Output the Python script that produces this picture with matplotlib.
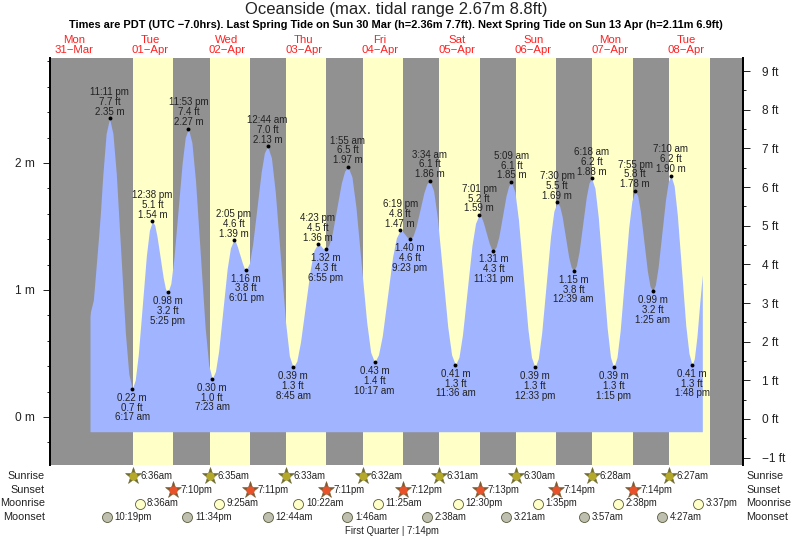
import matplotlib
matplotlib.use("Agg")
import matplotlib.pyplot as plt
from matplotlib.ticker import MultipleLocator, FuncFormatter

plt.rcParams['font.family'] = ['Liberation Sans', 'DejaVu Sans']

# all times are hours after 00:00 on 31 Mar, heights in metres
tide_hours = [
    17.05, 17.2, 18.1, 19.66, 20.3, 21.05, 22.1, 23.18,
    24.25, 25.31, 26.73, 28.15, 29.22, 30.28,
    31.23, 32.19, 33.46, 34.73, 35.68, 36.63,
    37.35, 38.07, 39.03, 39.98, 40.70, 41.42,
    42.39, 43.36, 44.65, 45.94, 46.91, 47.88,
    49.0, 50.13, 51.63, 53.13, 54.26, 55.38,
    56.39, 57.39, 58.73, 60.07, 61.08, 62.08,
    62.67, 63.26, 64.05, 64.84, 65.43, 66.02,
    67.03, 68.03, 69.38, 70.72, 71.72, 72.73,
    73.93, 75.14, 76.74, 78.34, 79.55, 80.75,
    81.89, 83.04, 84.57, 86.09, 87.24, 88.38,
    89.15, 89.65, 90.15, 90.92,
    91.97, 93.02, 94.42, 95.82, 96.87, 97.92,
    99.17, 100.43, 102.10, 103.77, 105.03, 106.28,
    107.49, 108.69, 110.30, 111.91, 113.11, 114.32,
    115.05, 115.85, 116.65, 117.38,
    118.31, 119.24, 120.48, 121.71, 122.64, 123.57,
    124.77, 125.98, 127.59, 129.19, 130.40, 131.6,
    132.71, 133.83, 135.31, 136.79, 137.91, 139.02,
    139.70, 140.37, 141.27, 142.17, 142.85, 143.52,
    144.36, 145.21, 146.34, 147.46, 148.31, 149.15,
    150.26, 151.37, 152.85, 154.33, 155.44, 156.55,
    157.59, 158.64, 160.03, 161.42, 162.46, 163.5,
    164.27, 165.05, 166.08, 167.11, 167.88, 168.65,
    169.50, 170.35, 171.48, 172.61, 173.45, 174.3,
    175.34, 176.39, 177.78, 179.17, 180.21, 181.25,
    182.25, 183.25, 184.59, 185.92, 186.92, 187.92,
    188.75, 189.57, 190.67, 191.77, 192.60, 193.42,
    194.28, 195.15, 196.30, 197.45, 198.31, 199.17,
    200.16, 201.16, 202.49, 203.81, 204.81, 205.8,
    206.5, 207.3, 208.27, 209.0,
]
tide_m = [
    0.79, 0.83, 0.92, 1.39, 1.60, 1.90, 2.23, 2.35,
    2.23, 1.91, 1.285, 0.66, 0.34, 0.22,
    0.29, 0.49, 0.88, 1.27, 1.47, 1.54,
    1.51, 1.42, 1.26, 1.10, 1.01, 0.98,
    1.05, 1.25, 1.625, 2.00, 2.20, 2.27,
    2.16, 1.86, 1.285, 0.71, 0.41, 0.30,
    0.36, 0.52, 0.845, 1.17, 1.33, 1.39,
    1.38, 1.34, 1.275, 1.21, 1.17, 1.16,
    1.21, 1.36, 1.645, 1.93, 2.08, 2.13,
    2.04, 1.77, 1.26, 0.75, 0.48, 0.39,
    0.44, 0.59, 0.875, 1.16, 1.31, 1.36,
    1.355, 1.34, 1.325, 1.32,
    1.355, 1.45, 1.645, 1.84, 1.935, 1.97,
    1.89, 1.65, 1.20, 0.75, 0.51, 0.43,
    0.49, 0.64, 0.95, 1.26, 1.41, 1.47,
    1.46, 1.435, 1.41, 1.40,
    1.425, 1.495, 1.63, 1.765, 1.835, 1.86,
    1.78, 1.56, 1.135, 0.71, 0.49, 0.41,
    0.47, 0.65, 1.0, 1.35, 1.525, 1.59,
    1.575, 1.53, 1.45, 1.37, 1.325, 1.31,
    1.34, 1.42, 1.58, 1.74, 1.82, 1.85,
    1.77, 1.55, 1.12, 0.69, 0.47, 0.39,
    0.46, 0.66, 1.04, 1.42, 1.62, 1.69,
    1.66, 1.58, 1.42, 1.26, 1.18, 1.15,
    1.19, 1.30, 1.515, 1.73, 1.84, 1.88,
    1.80, 1.57, 1.135, 0.70, 0.47, 0.39,
    0.47, 0.68, 1.085, 1.49, 1.70, 1.78,
    1.74, 1.62, 1.385, 1.15, 1.03, 0.99,
    1.04, 1.18, 1.445, 1.71, 1.85, 1.90,
    1.82, 1.59, 1.155, 0.72, 0.50, 0.41,
    0.46, 0.63, 0.92, 1.12,
]

peak_hours = [23.18, 30.28, 36.63, 41.42, 47.88, 55.38, 62.08, 66.02, 72.73, 80.75,
              88.38, 90.92, 97.92, 106.28, 114.32, 117.38, 123.57, 131.6, 139.02, 143.52,
              149.15, 156.55, 163.5, 168.65, 174.3, 181.25, 187.92, 193.42, 199.17, 205.8]
peak_m = [2.35, 0.22, 1.54, 0.98, 2.27, 0.30, 1.39, 1.16, 2.13, 0.39,
          1.36, 1.32, 1.97, 0.43, 1.47, 1.40, 1.86, 0.41, 1.59, 1.31,
          1.85, 0.39, 1.69, 1.15, 1.88, 0.39, 1.78, 0.99, 1.90, 0.41]
peak_ft = [7.7, 0.7, 5.1, 3.2, 7.4, 1.0, 4.6, 3.8, 7.0, 1.3,
           4.5, 4.3, 6.5, 1.4, 4.8, 4.6, 6.1, 1.3, 5.2, 4.3,
           6.1, 1.3, 5.5, 3.8, 6.2, 1.3, 5.8, 3.2, 6.2, 1.3]
peak_times = ["11:11 pm", "6:17 am", "12:38 pm", "5:25 pm", "11:53 pm", "7:23 am", "2:05 pm", "6:01 pm",
              "12:44 am", "8:45 am", "4:23 pm", "6:55 pm", "1:55 am", "10:17 am", "6:19 pm", "9:23 pm",
              "3:34 am", "11:36 am", "7:01 pm", "11:31 pm", "5:09 am", "12:33 pm", "7:30 pm", "12:39 am",
              "6:18 am", "1:15 pm", "7:55 pm", "1:25 am", "7:10 am", "1:48 pm"]

sunrise_hours = [30.6, 54.58, 78.55, 102.53, 126.52, 150.5, 174.47, 198.45]
sunrise_labels = ["6:36am", "6:35am", "6:33am", "6:32am", "6:31am", "6:30am", "6:28am", "6:27am"]
sunset_hours = [43.17, 67.18, 91.18, 115.2, 139.22, 163.23, 187.23, 211.25]
sunset_labels = ["7:10pm", "7:11pm", "7:11pm", "7:12pm", "7:13pm", "7:14pm", "7:14pm"]
moonrise_hours = [32.6, 57.42, 82.37, 107.42, 132.5, 157.58, 182.63, 207.62]
moonrise_labels = ["8:36am", "9:25am", "10:22am", "11:25am", "12:30pm", "1:35pm", "2:38pm", "3:37pm"]
moonset_hours = [22.32, 47.57, 72.73, 97.77, 122.63, 147.35, 171.95, 196.45]
moonset_labels = ["10:19pm", "11:34pm", "12:44am", "1:46am", "2:38am", "3:21am", "3:57am", "4:27am"]

day_hours = [12, 36, 60, 84, 108, 132, 156, 180, 204]
day_names = ["Mon", "Tue", "Wed", "Thu", "Fri", "Sat", "Sun", "Mon", "Tue"]
day_dates = ["31−Mar", "01−Apr", "02−Apr", "03−Apr", "04−Apr", "05−Apr", "06−Apr", "07−Apr", "08−Apr"]

W, H = 793, 539
left, right, top, bottom = 49.5, 743, 57.5, 465


def row_y(px):
    # pixel row of the picture to axes fraction
    return (bottom - px) / (bottom - top)


fig = plt.figure(figsize=(W / 100, H / 100), dpi=100)
ax = fig.add_axes([left / W, 1 - bottom / H, (right - left) / W, (bottom - top) / H])
ax.set_facecolor("#919191")
ax.set_xlim(4.36, 221.75)
ax.set_ylim(-0.378, 2.83)

for rise, sset in zip(sunrise_hours, sunset_hours):
    ax.axvspan(rise, sset, color="#FFFFC8", lw=0)

baseline = -0.116
ax.fill_between(tide_hours, tide_m, baseline, color="#A0B4FF", lw=0, zorder=2)
ax.plot(peak_hours, peak_m, "o", color="black", ms=2.8, mew=0, zorder=4)

for h, m, ft, t in zip(peak_hours, peak_m, peak_ft, peak_times):
    idx = tide_hours.index(h)
    is_high = tide_m[idx + 1] < m
    if is_high:
        txt, off, va = f"{t}\n{ft:.1f} ft\n{m:.2f} m", 1.2, "bottom"
    else:
        txt, off, va = f"{m:.2f} m\n{ft:.1f} ft\n{t}", -2.8, "top"
    ax.annotate(txt, (h, m), xytext=(0, off), textcoords="offset points", ha="center", va=va,
                fontsize=7.0, color="#222222", linespacing=0.97, zorder=5)

xt = ax.get_xaxis_transform()
for h, name, date in zip(day_hours, day_names, day_dates):
    ax.text(h, 1.006, f"{name}\n{date}", transform=xt, ha="center", va="bottom",
            fontsize=8.2, color="#FF2020", linespacing=1.05)

ax.set_xticks([])
ax.yaxis.set_major_locator(MultipleLocator(1))
ax.yaxis.set_minor_locator(MultipleLocator(0.2))
ax.yaxis.set_major_formatter(FuncFormatter(lambda v, p: f"{v:.0f} m"))
ax.tick_params(axis="y", which="major", length=5, width=0.7, pad=5.5, labelsize=8.6, colors="#222222")
ax.tick_params(axis="y", which="minor", length=2.5, width=0.7, color="#222222")

ax2 = ax.twinx()
ax2.set_ylim(-1.19, 9.35)
ax2.yaxis.set_major_locator(MultipleLocator(1))
ax2.yaxis.set_minor_locator(MultipleLocator(0.5))
ax2.yaxis.set_major_formatter(FuncFormatter(lambda v, p: f"{v:.0f} ft".replace("-", "−")))
ax2.tick_params(axis="y", which="major", length=5, width=0.7, pad=9, labelsize=8.6, colors="#222222")
ax2.tick_params(axis="y", which="minor", length=2.5, width=0.7, color="#222222")

for a in (ax, ax2):
    a.spines["top"].set_visible(False)
    a.spines["bottom"].set_visible(False)
    a.spines["left"].set_linewidth(1.3)
    a.spines["right"].set_linewidth(1.3)

# rows of sun and moon times under the chart, stars get a dark spiky backing
rows = [
    ("Sunrise", 476, sunrise_hours, sunrise_labels, "#B4A82A", "#6E6A30"),
    ("Sunset", 490, sunset_hours, sunset_labels, "#E8522A", "#7A5A30"),
    ("Moonrise", 503.5, moonrise_hours, moonrise_labels, "#FFFFC8", None),
    ("Moonset", 517, moonset_hours, moonset_labels, "#BFBFB0", None),
]
for name, py, hours, labels, col, star in rows:
    y = row_y(py)
    n = len(labels)
    fig.text(45 / W, 1 - py / H, name, ha="right", va="center", fontsize=7.8, color="#222222")
    fig.text(746.5 / W, 1 - py / H, name, ha="left", va="center", fontsize=7.8, color="#222222")
    if star:
        ax.plot(hours[:n], [y] * n, "*", transform=xt, clip_on=False, mfc=star, mec=star, mew=0.4,
                ms=12.5, ls="none", zorder=6)
        ax.plot(hours[:n], [y] * n, "o", transform=xt, clip_on=False, mfc=col, mec=col, mew=0,
                ms=6, ls="none", zorder=7)
    else:
        ax.plot(hours[:n], [y] * n, "o", transform=xt, clip_on=False, mfc=col, mec="#5A5A3C", mew=0.6,
                ms=7.2, ls="none", zorder=6)
    for h, lab in zip(hours, labels):
        ax.annotate(lab, (h, y), xycoords=xt, xytext=(5.4, 0), textcoords="offset points",
                    ha="left", va="center", fontsize=6.9, color="#222222", annotation_clip=False)

fig.text(392 / W, 1 - 531 / H, "First Quarter | 7:14pm", ha="center", va="center",
         fontsize=6.9, color="#222222")

fig.text(396 / W, 1 - 9.5 / H, "Oceanside (max. tidal range 2.67m 8.8ft)", ha="center", va="center",
         fontsize=12, color="#222222")
fig.text(396 / W, 1 - 25 / H,
         "Times are PDT (UTC −7.0hrs). Last Spring Tide on Sun 30 Mar (h=2.36m 7.7ft). "
         "Next Spring Tide on Sun 13 Apr (h=2.11m 6.9ft)",
         ha="center", va="center", fontsize=7.9, fontweight="bold", color="black")

fig.savefig("out.png", dpi=100)
